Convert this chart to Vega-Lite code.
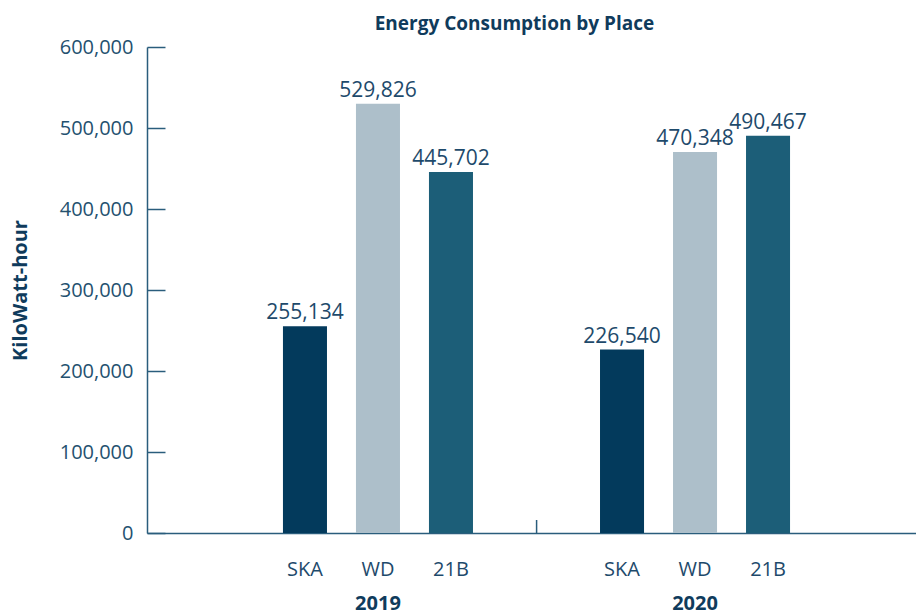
{
  "$schema": "https://vega.github.io/schema/vega-lite/v6.json",
  "width": 779,
  "height": 486,
  "autosize": {"type": "none"},
  "padding": {"left": 147, "top": 47, "right": 0, "bottom": 81},
  "background": "white",
  "config": {
    "font": "Open Sans",
    "view": {"stroke": null},
    "axis": {"grid": false},
    "axisY": {
      "titleFontSize": 20,
      "titleFontWeight": "bold",
      "titleColor": "#0f3b5c",
      "titleAngle": 270,
      "titleAlign": "center",
      "titleBaseline": "middle",
      "titleX": -127,
      "titleY": 243,
      "labelFontSize": 20,
      "labelColor": "#24516f",
      "labelPadding": 32,
      "tickSize": -18,
      "tickColor": "#2a5d7c",
      "tickWidth": 1.5,
      "domainColor": "#2a5d7c",
      "domainWidth": 1.5
    }
  },
  "title": {
    "text": "Energy Consumption by Place",
    "fontSize": 19,
    "fontWeight": "bold",
    "color": "#0f3b5c",
    "anchor": "middle",
    "dx": -22,
    "offset": 3
  },
  "data": {
    "values": [
      {"year": "2019", "place": "SKA", "kwh": 255134},
      {"year": "2019", "place": "WD", "kwh": 529826},
      {"year": "2019", "place": "21B", "kwh": 445702},
      {"year": "2020", "place": "SKA", "kwh": 226540},
      {"year": "2020", "place": "WD", "kwh": 470348},
      {"year": "2020", "place": "21B", "kwh": 490467}
    ]
  },
  "encoding": {
    "x": {
      "field": "year",
      "type": "nominal",
      "scale": {"paddingInner": 0.309, "paddingOuter": 0.383},
      "axis": {
        "title": null,
        "ticks": false,
        "labelAngle": 0,
        "labelFontSize": 20,
        "labelFontWeight": "bold",
        "labelColor": "#0f3b5c",
        "labelPadding": 60,
        "domainColor": "#2a5d7c",
        "domainWidth": 1.5
      }
    },
    "xOffset": {
      "field": "place",
      "type": "nominal",
      "sort": ["SKA", "WD", "21B"],
      "scale": {"paddingInner": 0.397, "paddingOuter": 0.199}
    }
  },
  "layer": [
    {
      "mark": {"type": "bar"},
      "encoding": {
        "y": {
          "field": "kwh",
          "type": "quantitative",
          "title": "KiloWatt-hour",
          "scale": {"domain": [0, 600000]},
          "axis": {
            "title": "KiloWatt-hour",
            "values": [0, 100000, 200000, 300000, 400000, 500000, 600000],
            "format": ",d"
          }
        },
        "color": {
          "field": "place",
          "type": "nominal",
          "scale": {"domain": ["SKA", "WD", "21B"], "range": ["#033a5c", "#adbfca", "#1c5e78"]},
          "legend": null
        }
      }
    },
    {
      "mark": {"type": "text", "fontSize": 21, "color": "#1e4a6b", "baseline": "alphabetic", "dy": -7},
      "encoding": {
        "y": {
          "field": "kwh",
          "type": "quantitative",
          "title": "KiloWatt-hour",
          "axis": {
            "title": "KiloWatt-hour",
            "values": [0, 100000, 200000, 300000, 400000, 500000, 600000],
            "format": ",d"
          }
        },
        "text": {"field": "kwh", "type": "quantitative", "format": ","}
      }
    },
    {
      "mark": {"type": "text", "fontSize": 20, "color": "#1e4a6b", "baseline": "middle", "dy": 37},
      "encoding": {
        "y": {
          "datum": 0,
          "type": "quantitative",
          "title": "KiloWatt-hour",
          "axis": {
            "title": "KiloWatt-hour",
            "values": [0, 100000, 200000, 300000, 400000, 500000, 600000],
            "format": ",d"
          }
        },
        "text": {"field": "place", "type": "nominal"}
      }
    },
    {
      "data": {"values": [{"year": "2019"}]},
      "mark": {"type": "rule", "color": "#2a5d7c", "strokeWidth": 1.5, "y2Offset": -13},
      "encoding": {
        "x": {"field": "year", "type": "nominal", "bandPosition": 1.224},
        "xOffset": null,
        "y": {
          "datum": 0,
          "type": "quantitative",
          "title": "KiloWatt-hour",
          "axis": {
            "title": "KiloWatt-hour",
            "values": [0, 100000, 200000, 300000, 400000, 500000, 600000],
            "format": ",d"
          }
        },
        "y2": {"datum": 0}
      }
    }
  ]
}
